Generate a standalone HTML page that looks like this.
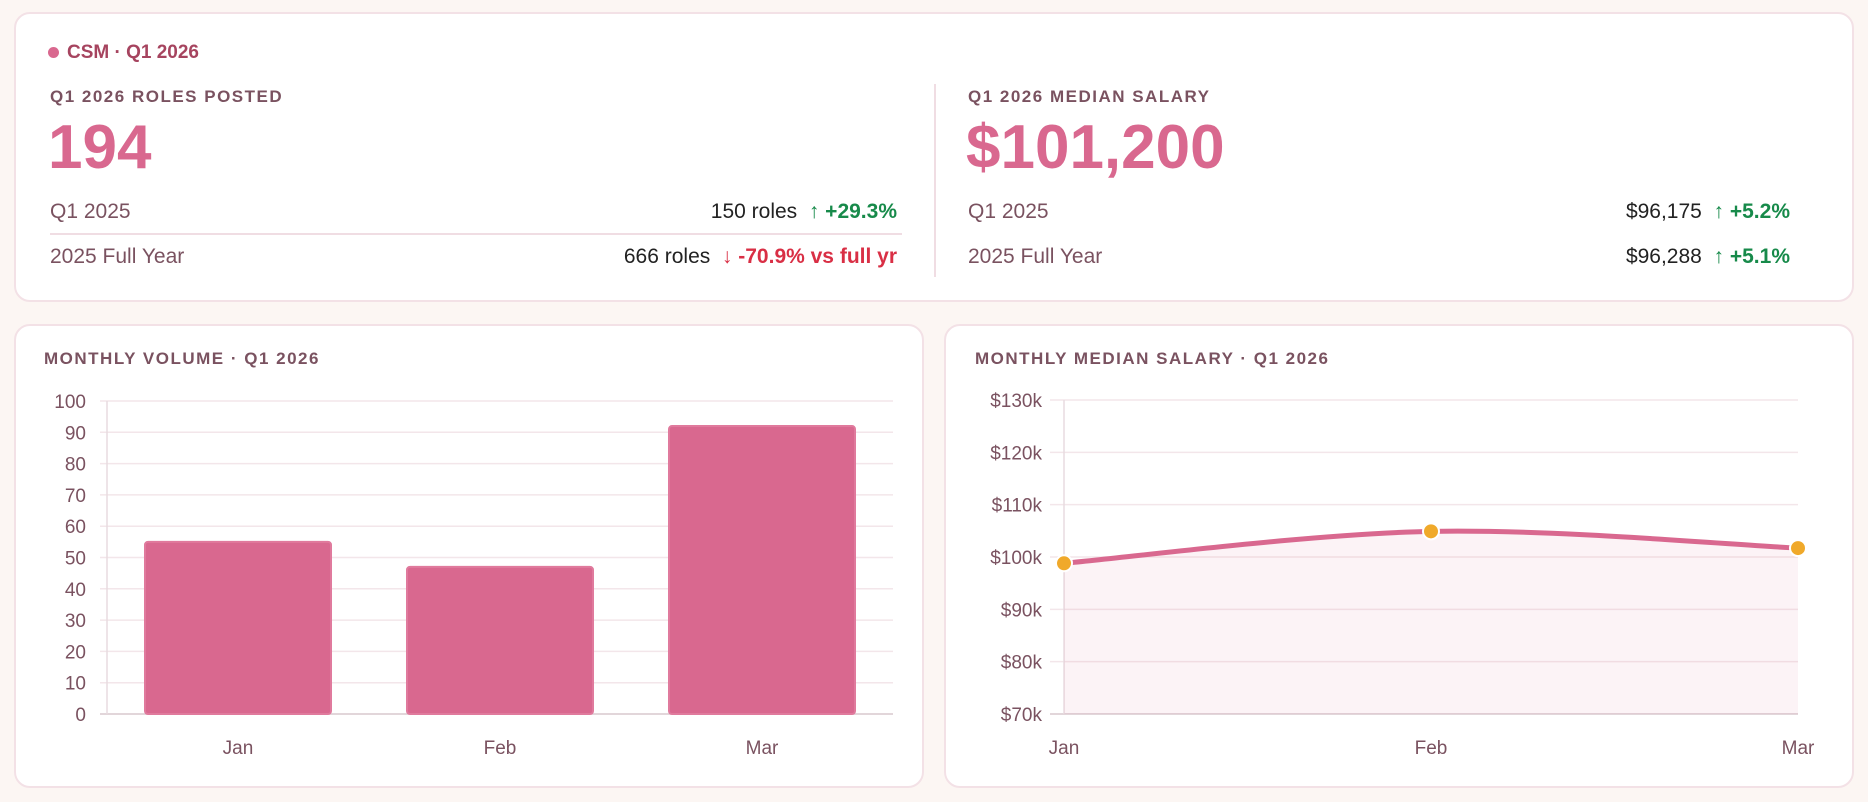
<!DOCTYPE html>
<html><head><meta charset="utf-8"><style>
body{margin:0;width:1868px;height:802px;background:#fcf6f3;font-family:"Liberation Sans",sans-serif;position:relative;overflow:hidden}
.card{position:absolute;background:#fff;border:2px solid #f3e1e6;border-radius:16px;box-sizing:border-box}
.abs{position:absolute;white-space:nowrap}
.lab{font-size:17px;font-weight:bold;letter-spacing:1.5px;color:#7a5260}
.big{font-size:62px;font-weight:bold;color:#d9688f}
.row{font-size:21px;color:#7a5260}
.val{font-size:21px;color:#222}
.up{color:#178a4a;font-weight:bold}
.dn{color:#d92f45;font-weight:bold}
</style></head><body>
<div class="card" style="left:14px;top:12px;width:1840px;height:290px">
 <div class="abs" style="left:32px;top:28px;font-size:19px;font-weight:bold;color:#a6445f"><span style="display:inline-block;width:11px;height:11px;border-radius:50%;background:#d9688f;margin-right:8px"></span>CSM · Q1 2026</div>
 <div class="abs lab" style="left:34px;top:73px">Q1 2026 ROLES POSTED</div>
 <div class="abs big" style="left:32px;top:98px">194</div>
 <div class="abs row" style="left:34px;top:186px">Q1 2025</div>
 <div class="abs val" style="right:955px;top:186px">150 roles &nbsp;<span class="up">↑ +29.3%</span></div>
 <div class="abs" style="left:34px;top:219px;width:852px;height:2px;background:#f0dde3"></div>
 <div class="abs row" style="left:34px;top:231px">2025 Full Year</div>
 <div class="abs val" style="right:955px;top:231px">666 roles &nbsp;<span class="dn">↓ -70.9% vs full yr</span></div>
 <div class="abs" style="left:918px;top:70px;width:2px;height:193px;background:#f0dde3"></div>
 <div class="abs lab" style="left:952px;top:73px">Q1 2026 MEDIAN SALARY</div>
 <div class="abs big" style="left:950px;top:98px">$101,200</div>
 <div class="abs row" style="left:952px;top:186px">Q1 2025</div>
 <div class="abs val" style="right:62px;top:186px">$96,175 &nbsp;<span class="up">↑ +5.2%</span></div>
 <div class="abs row" style="left:952px;top:231px">2025 Full Year</div>
 <div class="abs val" style="right:62px;top:231px">$96,288 &nbsp;<span class="up">↑ +5.1%</span></div>
</div>
<div class="card" style="left:14px;top:324px;width:910px;height:464px">
 <div class="abs lab" style="left:28px;top:23px">MONTHLY VOLUME · Q1 2026</div>
</div>
<div class="card" style="left:944px;top:324px;width:910px;height:464px">
 <div class="abs lab" style="left:29px;top:23px">MONTHLY MEDIAN SALARY · Q1 2026</div>
</div>
<svg id="svg" width="1868" height="802" style="position:absolute;left:0;top:0" font-family="Liberation Sans, sans-serif"></svg>
<script>
const months=["Jan","Feb","Mar"];
const volumes=[55,47,92];
const volTicks=[0,10,20,30,40,50,60,70,80,90,100];
const salaries=[98800,104900,101700];
const salTicks=[70000,80000,90000,100000,110000,120000,130000];
const salTickLabels=["$70k","$80k","$90k","$100k","$110k","$120k","$130k"];
const NS="http://www.w3.org/2000/svg",svg=document.getElementById("svg");
function mk(t,a,txt){const e=document.createElementNS(NS,t);for(const k in a)e.setAttribute(k,a[k]);if(txt!=null)e.textContent=txt;svg.appendChild(e);return e;}
// bar chart
const bx0=107,bx1=893,by0=714,by1=401;
const yb=v=>by0-(v/100)*(by0-by1);
volTicks.forEach(t=>{const g=mk("line",{x1:bx0-7,x2:bx1,y1:yb(t),y2:yb(t),stroke:t?"#f3e6ea":"#d8c8cd","stroke-width":1.5});

const l=mk("text",{x:86,y:yb(t)+7,"text-anchor":"end","font-size":19,fill:"#7a5260"},t);
});
const ax=mk("line",{x1:bx0,x2:bx0,y1:by1,y2:by0,stroke:"#e8dce0","stroke-width":1.5});

const bw=(bx1-bx0)/months.length;
months.forEach((m,i)=>{const cx=bx0+bw*(i+.5);
const r=mk("rect",{x:cx-93,y:yb(volumes[i]),width:186,height:by0-yb(volumes[i]),fill:"#d9688f",stroke:"#e07a9d","stroke-width":2,rx:3});

const t=mk("text",{x:cx,y:754,"text-anchor":"middle","font-size":19,fill:"#7a5260"},m);
});
// line chart
const lx0=1064,lx1=1798,ly0=714,ly1=400;
const ys=v=>ly0-(v-70000)/60000*(ly0-ly1);
const xs=i=>lx0+i*(lx1-lx0)/(months.length-1);
salTicks.forEach((t,i)=>{const g=mk("line",{x1:1050,x2:lx1,y1:ys(t),y2:ys(t),stroke:i?"#f3e6ea":"#d8c8cd","stroke-width":1.5});

const l=mk("text",{x:1042,y:ys(t)+7,"text-anchor":"end","font-size":19,fill:"#7a5260"},salTickLabels[i]);
});
const ay=mk("line",{x1:lx0,x2:lx0,y1:ly1,y2:ly0,stroke:"#e8dce0","stroke-width":1.5});

const P=salaries.map((v,i)=>[xs(i),ys(v)]);
let d=`M${P[0][0]},${P[0][1]}`;
for(let i=0;i<P.length-1;i++){const p0=P[Math.max(0,i-1)],p1=P[i],p2=P[i+1],p3=P[Math.min(P.length-1,i+2)],k=0.4/2;
d+=` C${p1[0]+(p2[0]-p0[0])*k/1.2},${p1[1]+(p2[1]-p0[1])*k/1.2} ${p2[0]-(p3[0]-p1[0])*k/1.2},${p2[1]-(p3[1]-p1[1])*k/1.2} ${p2[0]},${p2[1]}`;}
const area=mk("path",{d:d+` L${lx1},${ly0} L${lx0},${ly0} Z`,fill:"#d9688f","fill-opacity":0.08});

const ln=mk("path",{d:d,fill:"none",stroke:"#d9688f","stroke-width":5});

P.forEach((p,i)=>{const c=mk("circle",{cx:p[0],cy:p[1],r:8,fill:"#f0a92a",stroke:"#fff","stroke-width":2});

const t=mk("text",{x:p[0],y:754,"text-anchor":"middle","font-size":19,fill:"#7a5260"},months[i]);
});
</script>
</body></html>
